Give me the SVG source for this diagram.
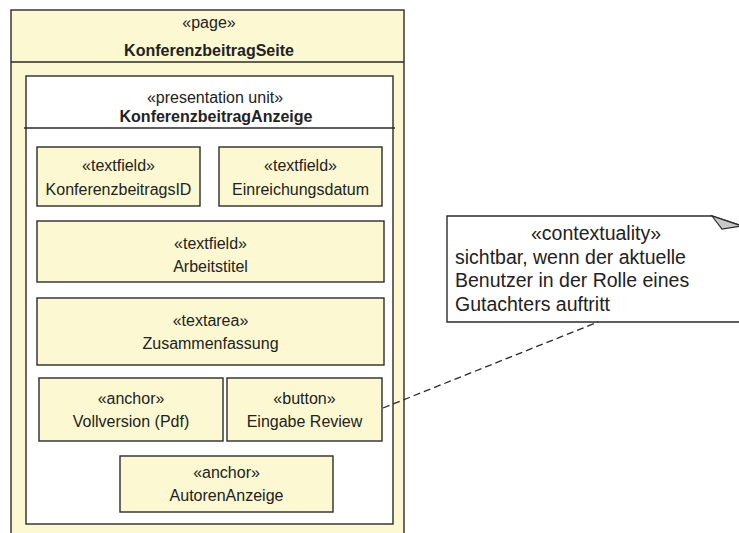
<svg xmlns="http://www.w3.org/2000/svg" width="739" height="533" viewBox="0 0 739 533">
<style>
  .y { fill: #FBF8D2; stroke: #2b2b2b; stroke-width: 1.4; }
  .w { fill: #FFFFFF; stroke: #2b2b2b; stroke-width: 1.4; }
  .ln { stroke: #2b2b2b; stroke-width: 1.4; fill: none; }
  text { font-family: "Liberation Sans", Arial, sans-serif; fill: #222; text-anchor: middle; }
  .t { font-size: 16px; }
  .b { font-size: 16px; font-weight: bold; }
  .n { font-size: 19.5px; }
</style>
<g id="page">
  <rect class="y" x="11" y="10" width="393" height="540"/>
  <line class="ln" x1="11" y1="62" x2="404" y2="62"/>
  <text class="t" x="209" y="28">«page»</text>
  <text class="b" x="209" y="56">KonferenzbeitragSeite</text>
</g>
<g id="presentationUnit">
  <rect class="w" x="26" y="76" width="367" height="448"/>
  <line class="ln" x1="24" y1="128" x2="395" y2="128"/>
  <text class="t" x="215" y="103">«presentation unit»</text>
  <text class="b" x="216" y="122">KonferenzbeitragAnzeige</text>
</g>
<g id="konferenzbeitragsID">
  <rect class="y" x="37" y="147" width="163" height="59"/>
  <text class="t" x="118.5" y="171">«textfield»</text>
  <text class="t" x="118.5" y="195">KonferenzbeitragsID</text>
</g>
<g id="einreichungsdatum">
  <rect class="y" x="219" y="147" width="163" height="59"/>
  <text class="t" x="300.5" y="171">«textfield»</text>
  <text class="t" x="300.5" y="195">Einreichungsdatum</text>
</g>
<g id="arbeitstitel">
  <rect class="y" x="37" y="221" width="347" height="61"/>
  <text class="t" x="210.5" y="249">«textfield»</text>
  <text class="t" x="210.5" y="272">Arbeitstitel</text>
</g>
<g id="zusammenfassung">
  <rect class="y" x="37" y="298" width="347" height="67"/>
  <text class="t" x="210.5" y="326">«textarea»</text>
  <text class="t" x="210.5" y="349">Zusammenfassung</text>
</g>
<g id="vollversion">
  <rect class="y" x="39" y="378" width="184" height="63"/>
  <text class="t" x="131" y="404">«anchor»</text>
  <text class="t" x="131" y="427">Vollversion (Pdf)</text>
</g>
<g id="eingabeReview">
  <rect class="y" x="227" y="378" width="155" height="63"/>
  <text class="t" x="304.5" y="404">«button»</text>
  <text class="t" x="304.5" y="427">Eingabe Review</text>
</g>
<g id="autorenAnzeige">
  <rect class="y" x="120" y="456" width="213" height="56"/>
  <text class="t" x="226.5" y="478">«anchor»</text>
  <text class="t" x="226.5" y="501">AutorenAnzeige</text>
</g>
<g id="note">
  <polygon class="w" points="447,216 712,216 742,226 742,322 447,322"/>
  <polygon points="712,216 722,229 742,226" fill="#C8C8C8" stroke="#2b2b2b" stroke-width="1.2"/>
  <text class="n" x="596" y="240">«contextuality»</text>
  <text class="n" x="455" y="264" style="text-anchor:start">sichtbar, wenn der aktuelle</text>
  <text class="n" x="455" y="287" style="text-anchor:start">Benutzer in der Rolle eines</text>
  <text class="n" x="455" y="311" style="text-anchor:start">Gutachters auftritt</text>
</g>
<g id="connectors">
  <line x1="383" y1="408" x2="598" y2="322" stroke="#2b2b2b" stroke-width="1.3" stroke-dasharray="7,4" fill="none"/>
</g>
</svg>
